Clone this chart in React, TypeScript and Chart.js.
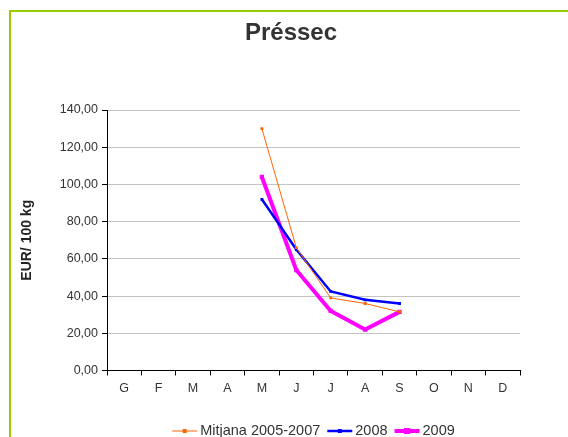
import React, { useEffect, useRef } from "react";
import { Chart, registerables } from "chart.js";

Chart.register(...registerables);

const months = ["G", "F", "M", "A", "M", "J", "J", "A", "S", "O", "N", "D"];
const mitjana = [null, null, null, null, 130, 66, 39, 36, 31.5, null, null, null];
const y2008 = [null, null, null, null, 92, 65, 42.5, 38, 36, null, null, null];
const y2009 = [null, null, null, null, 104, 54, 32, 22, 31.5, null, null, null];
const seriesLabels = ["Mitjana 2005-2007", "2008", "2009"];
const chartTitle = "Préssec";
const yTitle = "EUR/ 100 kg";
const yTicksMin = 0;
const yTicksMax = 140;
const yStep = 20;

const FONT = '"Liberation Sans", Arial, Helvetica, sans-serif';

const titleLegendPlugin = {
  id: "titleLegend",
  afterDraw(chart: any) {
    const ctx = chart.ctx as CanvasRenderingContext2D;
    ctx.save();
    // title
    ctx.font = `bold 24px ${FONT}`;
    ctx.fillStyle = "#333333";
    ctx.textAlign = "center";
    ctx.textBaseline = "middle";
    ctx.fillText(chartTitle, 291, 33);

    // legend
    ctx.font = `14.5px ${FONT}`;
    const lineW = 25;
    const gapText = 3;
    const gapItems = 7;
    const dss = chart.data.datasets;
    const widths = dss.map((ds: any) => lineW + gapText + ctx.measureText(ds.label).width);
    const total = widths.reduce((s: number, w: number) => s + w, 0) + gapItems * (dss.length - 1);
    const { left, right } = chart.chartArea;
    let x = (left + right) / 2 - total / 2;
    const y = 431;
    dss.forEach((ds: any, i: number) => {
      ctx.strokeStyle = ds.borderColor;
      ctx.lineWidth = ds.borderWidth;
      ctx.beginPath();
      ctx.moveTo(x, y);
      ctx.lineTo(x + lineW, y);
      ctx.stroke();
      const r = ds.pointRadius;
      ctx.fillStyle = ds.borderColor;
      ctx.fillRect(x + lineW / 2 - r, y - r, 2 * r, 2 * r);
      ctx.fillStyle = "#333333";
      ctx.textBaseline = "middle";
      ctx.textAlign = "left";
      ctx.fillText(ds.label, x + lineW + gapText, y);
      x += widths[i] + gapItems;
    });
    ctx.restore();
  },
};

export default function App() {
  const ref = useRef<HTMLCanvasElement | null>(null);

  useEffect(() => {
    if (!ref.current) return;
    const chart = new Chart(ref.current, {
      type: "line",
      data: {
        labels: months,
        datasets: [
          {
            label: seriesLabels[0],
            data: mitjana,
            borderColor: "#FF6600",
            backgroundColor: "#FF6600",
            borderWidth: 1,
            pointStyle: "rect",
            pointRadius: 2,
            pointBorderWidth: 0,
            pointBackgroundColor: "#FF6600",
          },
          {
            label: seriesLabels[1],
            data: y2008,
            borderColor: "#0000FF",
            backgroundColor: "#0000FF",
            borderWidth: 2.5,
            pointStyle: "rect",
            pointRadius: 2,
            pointBorderWidth: 0,
            pointBackgroundColor: "#0000FF",
          },
          {
            label: seriesLabels[2],
            data: y2009,
            borderColor: "#FF00FF",
            backgroundColor: "#FF00FF",
            borderWidth: 4,
            pointStyle: "rect",
            pointRadius: 3,
            pointBorderWidth: 0,
            pointBackgroundColor: "#FF00FF",
          },
        ] as any,
      },
      options: {
        animation: false,
        responsive: false,
        maintainAspectRatio: false,
        layout: { padding: { left: 14, right: 48, top: 110, bottom: 35.5 } },
        plugins: {
          legend: { display: false },
          tooltip: { enabled: false },
          title: { display: false },
        },
        scales: {
          x: {
            offset: true,
            grid: {
              display: true,
              drawOnChartArea: false,
              drawTicks: true,
              tickLength: 5,
              tickColor: "#000000",
              offset: true,
            },
            border: { color: "#000000", width: 1 },
            ticks: {
              color: "#333333",
              font: { family: FONT, size: 12.5 },
              padding: 5.5,
              maxRotation: 0,
              autoSkip: false,
            },
          },
          y: {
            min: yTicksMin,
            max: yTicksMax,
            afterFit: (scale: any) => {
              scale.width = 93;
            },
            grid: {
              color: "#C4C4C4",
              tickColor: "#000000",
              tickLength: 5,
            },
            border: { color: "#000000", width: 1 },
            ticks: {
              stepSize: yStep,
              color: "#333333",
              font: { family: FONT, size: 12.5 },
              padding: 4,
              callback: (v: any) => Number(v).toFixed(2).replace(".", ","),
            },
            title: {
              display: true,
              text: yTitle,
              color: "#222222",
              font: { family: FONT, size: 14, weight: "bold" },
              padding: { top: 4.5, bottom: 0 },
            },
          },
        },
      },
      plugins: [titleLegendPlugin],
    });
    return () => chart.destroy();
  }, []);

  return (
    <div
      style={{
        position: "fixed",
        left: 0,
        top: 0,
        width: 568,
        height: 437,
        overflow: "hidden",
        background: "#ffffff",
      }}
    >
      <div
        style={{
          position: "absolute",
          left: 9,
          top: 10,
          width: 700,
          height: 600,
          border: "2px solid #99CC00",
        }}
      />
      <canvas
        ref={ref}
        width={568}
        height={437}
        style={{ position: "absolute", left: 0, top: 0, width: 568, height: 437 }}
      />
    </div>
  );
}
